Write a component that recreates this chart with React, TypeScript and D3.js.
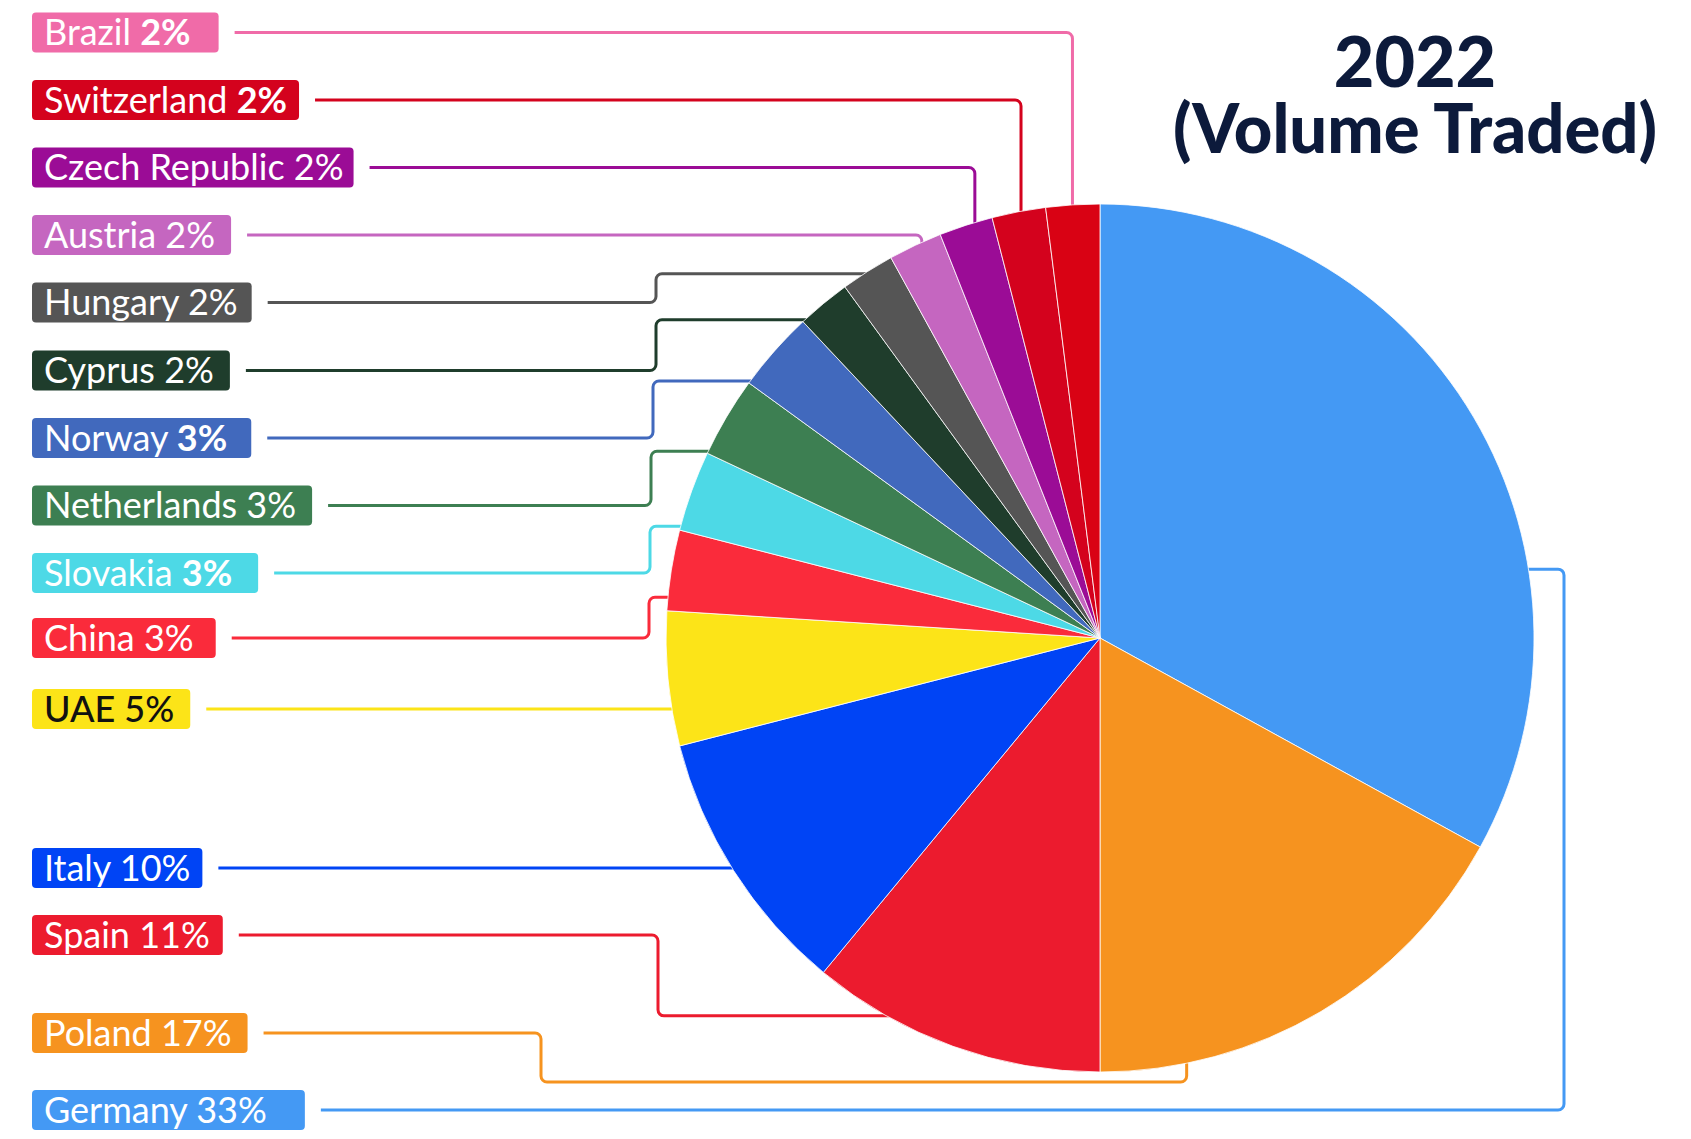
import React, { useEffect, useRef } from "react";
import * as d3 from "d3";

// ---------- data ----------
const countries = [
  "Germany", "Poland", "Spain", "Italy", "UAE", "China", "Slovakia", "Netherlands",
  "Norway", "Cyprus", "Hungary", "Austria", "Czech Republic", "Switzerland", "Brazil",
];
const shares = [33, 17, 11, 10, 5, 3, 3, 3, 3, 2, 2, 2, 2, 2, 2];
const sliceColors = [
  "#4499f4", "#f6931f", "#ec1b2e", "#0044f5", "#fce418", "#fa2b3b", "#4dd9e6", "#3d7f52",
  "#4169bd", "#1f3d2c", "#555555", "#c566c0", "#9b0c96", "#d4021d", "#d90214",
];
const labelColors = [
  "#4499f4", "#f6931f", "#ec1b2e", "#0044f5", "#fce418", "#fa2b3b", "#4dd9e6", "#3d7f52",
  "#4169bd", "#1f3d2c", "#555555", "#c566c0", "#9b0c96", "#d4021d", "#f06ba8",
];
const titleLines = ["2022", "(Volume Traded)"];

// ---------- layout ----------
const W = 1691, H = 1139;
const CX = 1100, CY = 638, R = 434;
const FONT = "Lato, 'Open Sans', sans-serif";
const LABEL_SIZE = 36;
const BOX_X = 32, BOX_H = 40, PAD_L = 12, PAD_R = 16, GAP = 16;

type Route = { type: string; frac?: number; x?: number; y?: number };
const labelRowY: Record<string, number> = {
  Brazil: 32.5, Switzerland: 100, "Czech Republic": 167.5, Austria: 235, Hungary: 302.5,
  Cyprus: 370.5, Norway: 438, Netherlands: 505.5, Slovakia: 573, China: 638, UAE: 709,
  Italy: 868, Spain: 935, Poland: 1033, Germany: 1110,
};
const extraPad: Record<string, number> = {
  Germany: 22, Brazil: 12, Norway: 8, Slovakia: 10, "Czech Republic": -6, Switzerland: -4,
  Hungary: -2, Italy: -4, Spain: -3, UAE: 0, China: 6,
};
const routes: Record<string, Route> = {
  Brazil: { type: "down", frac: 0.49 },
  Switzerland: { type: "down", frac: 0.53 },
  "Czech Republic": { type: "down", frac: 0.65 },
  Austria: { type: "down", frac: 0.6 },
  Hungary: { type: "elbow", frac: 0.54, x: 656 },
  Cyprus: { type: "elbow", frac: 0.13, x: 656 },
  Norway: { type: "elbow", frac: 0.065, x: 653 },
  Netherlands: { type: "elbow", frac: 0.05, x: 651 },
  Slovakia: { type: "elbow", frac: 0.06, x: 650 },
  China: { type: "elbow", frac: 0.17, x: 649 },
  UAE: { type: "straight" },
  Italy: { type: "straight" },
  Spain: { type: "elbow", frac: 0.72, x: 658 },
  Poland: { type: "under", frac: 0.81, x: 541, y: CY + R + 10 },
  Germany: { type: "around", frac: 0.68, x: CX + R + 30 },
};
const boldPct = new Set(["Brazil", "Switzerland", "Norway", "Slovakia"]);

function roundedPath(pts: [number, number][], r: number) {
  const p = d3.path();
  p.moveTo(pts[0][0], pts[0][1]);
  for (let i = 1; i < pts.length - 1; i++) {
    const [x0, y0] = pts[i - 1], [x1, y1] = pts[i], [x2, y2] = pts[i + 1];
    const l1 = Math.hypot(x1 - x0, y1 - y0), l2 = Math.hypot(x2 - x1, y2 - y1);
    const rr = Math.min(r, l1 / 2, l2 / 2);
    if (rr < 0.5) { p.lineTo(x1, y1); continue; }
    p.arcTo(x1, y1, x2, y2, rr);
  }
  const last = pts[pts.length - 1];
  p.lineTo(last[0], last[1]);
  return p.toString();
}

export default function App() {
  const ref = useRef<SVGSVGElement | null>(null);

  useEffect(() => {
    document.body.style.margin = "0";
    const svg = d3.select(ref.current);
    svg.selectAll("*").remove();
    svg.append("rect").attr("width", W).attr("height", H).attr("fill", "#ffffff");

    const data = countries.map((c, i) => ({ name: c, value: shares[i], i }));
    const arcs = d3.pie<any>().sort(null).value((d: any) => d.value)(data);
    const arcGen = d3.arc<any>().innerRadius(0).outerRadius(R);

    const gLines = svg.append("g");
    const gPie = svg.append("g").attr("transform", `translate(${CX},${CY})`);
    const gLabels = svg.append("g");

    const pt = (a: number, rr = R): [number, number] => [CX + rr * Math.sin(a), CY - rr * Math.cos(a)];

    arcs.forEach((a: any) => {
      const name = a.data.name;
      const i = a.data.i;
      const y = labelRowY[name];
      const g = gLabels.append("g");
      const rect = g.append("rect")
        .attr("x", BOX_X).attr("y", y - BOX_H / 2).attr("height", BOX_H)
        .attr("rx", 4).attr("fill", labelColors[i]);
      const txt = g.append("text")
        .attr("x", BOX_X + PAD_L).attr("y", y).attr("dy", "0.36em")
        .attr("font-family", FONT).attr("font-size", LABEL_SIZE)
        .attr("fill", name === "UAE" ? "#111111" : "#ffffff")
        .attr("font-weight", name === "UAE" ? 500 : 400);
      txt.append("tspan").text(name + " ");
      txt.append("tspan").attr("font-weight", boldPct.has(name) ? 700 : (name === "UAE" ? 500 : 400)).text(`${shares[i]}%`);
      const tw = (txt.node() as SVGTextElement).getComputedTextLength();
      const boxRight = BOX_X + PAD_L + tw + PAD_R + (extraPad[name] || 0);
      rect.attr("width", boxRight - BOX_X);

      const x0 = boxRight + GAP;
      const rt = routes[name];
      let pts: [number, number][] = [];
      const ang = rt.frac !== undefined ? a.startAngle + rt.frac * (a.endAngle - a.startAngle) : 0;
      const P = pt(ang, R - 4);
      if (rt.type === "down") {
        pts = [[x0, y], [P[0], y], [P[0], P[1]]];
      } else if (rt.type === "elbow") {
        pts = [[x0, y], [rt.x!, y], [rt.x!, P[1]], [P[0], P[1]]];
      } else if (rt.type === "straight") {
        const xe = CX - Math.sqrt(R * R - (y - CY) * (y - CY)) + 4;
        pts = [[x0, y], [xe, y]];
      } else if (rt.type === "under") {
        pts = [[x0, y], [rt.x!, y], [rt.x!, rt.y!], [P[0], rt.y!], [P[0], P[1]]];
      } else if (rt.type === "around") {
        pts = [[x0, y], [rt.x!, y], [rt.x!, P[1]], [P[0], P[1]]];
      }
      gLines.append("path")
        .attr("d", roundedPath(pts, 6))
        .attr("fill", "none").attr("stroke", labelColors[i])
        .attr("stroke-width", 3).attr("stroke-linejoin", "round");
    });

    gPie.selectAll("path.slice").data(arcs).enter().append("path")
      .attr("class", "slice")
      .attr("d", arcGen as any)
      .attr("fill", (d: any) => sliceColors[d.data.i])
      .attr("stroke", "#ffffff").attr("stroke-width", 1).attr("stroke-opacity", 0.8);

    const title = svg.append("text").attr("font-family", FONT).attr("font-weight", 900)
      .attr("fill", "#0c1a3b").attr("text-anchor", "middle");
    title.append("tspan").attr("x", 1415).attr("y", 87).attr("font-size", 70).text(titleLines[0]);
    title.append("tspan").attr("x", 1415).attr("y", 153).attr("font-size", 68)
      .attr("textLength", 484).attr("lengthAdjust", "spacingAndGlyphs").text(titleLines[1]);
  }, []);

  return <svg ref={ref} width={W} height={H} style={{ display: "block" }} />;
}
